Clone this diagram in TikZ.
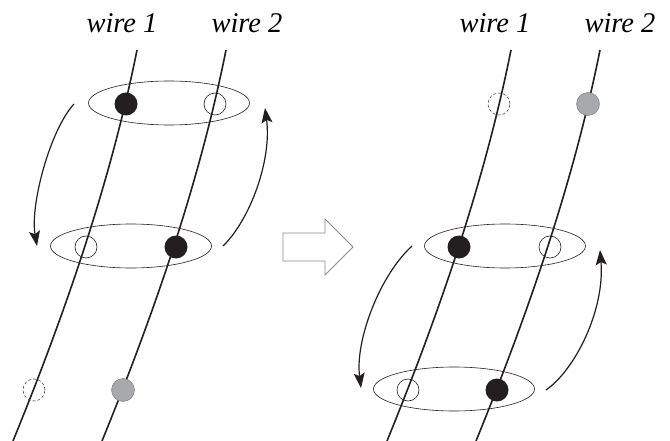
\documentclass[tikz,border=0pt]{standalone}
\usepackage{fontspec}
\setmainfont{Liberation Serif}
\newfontfamily\wirefont{Liberation Serif}[ItalicFont={Liberation Serif Italic}]
\usetikzlibrary{arrows.meta,shapes.geometric}
\definecolor{inkColor}{HTML}{231F20}
\definecolor{grayColor}{HTML}{A7A9AC}
\definecolor{hollowColor}{HTML}{8A8A8A}
\tikzset{
	wire/.style={line width=1.6pt,inkColor},
	pairRing/.style={draw=inkColor,ellipse,line width=0.6pt,minimum width=161pt,minimum height=44pt,inner sep=0},
	dotFull/.style={circle,fill=inkColor,minimum size=23pt,inner sep=0},
	dotEmpty/.style={circle,draw=inkColor,line width=0.6pt,minimum size=22pt,inner sep=0},
	dotGhost/.style={circle,draw=inkColor!80,dash pattern=on 3pt off 2pt,line width=0.6pt,minimum size=22pt,inner sep=0},
	dotGray/.style={circle,fill=grayColor,draw=grayColor!70!black,line width=0.4pt,minimum size=23pt,inner sep=0},
	swapArrow/.style={line width=1.2pt,inkColor,-{Stealth[length=15pt,width=11pt,inset=3pt]}},
	bigArrow/.style={draw=hollowColor,line width=0.8pt},
	wireLabel/.style={font=\wirefont\fontsize{28.5}{30}\selectfont\itshape,anchor=base,inner sep=0}
}
\begin{document}
\begin{tikzpicture}[x=1pt,y=-1pt]
	\useasboundingbox (0,0) rectangle (670,441);
	% labels
	\node[wireLabel] (l1) at (122,33) {wire 1};
	\node[wireLabel] (l2) at (247,33) {wire 2};
	\node[wireLabel] (r1) at (495,33) {wire 1};
	\node[wireLabel] (r2) at (620,33) {wire 2};
	% wires
	\coordinate (lw1top) at (137,50);
	\coordinate (lw1bot) at (13,441);
	\coordinate (lw2top) at (226,50);
	\coordinate (lw2bot) at (102,441);
	\coordinate (rw1top) at (511,50);
	\coordinate (rw1bot) at (387,441);
	\coordinate (rw2top) at (600,50);
	\coordinate (rw2bot) at (476,441);
	\draw[wire] (lw1top) .. controls +(-26,130) and +(53,-130) .. (lw1bot);
	\draw[wire] (lw2top) .. controls +(-26,130) and +(53,-130) .. (lw2bot);
	\draw[wire] (rw1top) .. controls +(-26,130) and +(53,-130) .. (rw1bot);
	\draw[wire] (rw2top) .. controls +(-26,130) and +(53,-130) .. (rw2bot);
	% rings round the pairs
	\node[pairRing] (lringA) at (169,103) {};
	\node[pairRing] (lringB) at (131,246) {};
	\node[pairRing] (rringA) at (505,246) {};
	\node[pairRing] (rringB) at (454,389) {};
	% left state
	\node[dotFull] (la1) at (126,104) {};
	\node[dotEmpty] (la2) at (215,104) {};
	\node[dotEmpty] (lb1) at (86,247) {};
	\node[dotFull] (lb2) at (176,247) {};
	\node[dotGhost] (lc1) at (34,390) {};
	\node[dotGray] (lc2) at (123,390) {};
	% right state
	\node[dotGhost] (ra1) at (499,104) {};
	\node[dotGray] (ra2) at (588,104) {};
	\node[dotFull] (rb1) at (459,247) {};
	\node[dotEmpty] (rb2) at (550,247) {};
	\node[dotEmpty] (rc1) at (408,390) {};
	\node[dotFull] (rc2) at (497,390) {};
	% exchange arrows
	\coordinate (lsA) at (74,104);
	\coordinate (leA) at (37,246);
	\coordinate (lsB) at (223,246);
	\coordinate (leB) at (265,108);
	\coordinate (rsA) at (412,246);
	\coordinate (reA) at (361,388);
	\coordinate (rsB) at (546,390);
	\coordinate (reB) at (600,250);
	\draw[swapArrow] (lsA) .. controls (50,130) and (30,205) .. (leA);
	\draw[swapArrow] (lsB) .. controls (250,220) and (272,160) .. (leB);
	\draw[swapArrow] (rsA) .. controls (380,275) and (355,340) .. (reA);
	\draw[swapArrow] (rsB) .. controls (575,370) and (605,310) .. (reB);
	% hollow arrow
	\draw[bigArrow] (283,233) -- (325,233) -- (325,219) -- (353,247) -- (325,275) -- (325,261) -- (283,261) -- cycle;
\end{tikzpicture}
\end{document}
